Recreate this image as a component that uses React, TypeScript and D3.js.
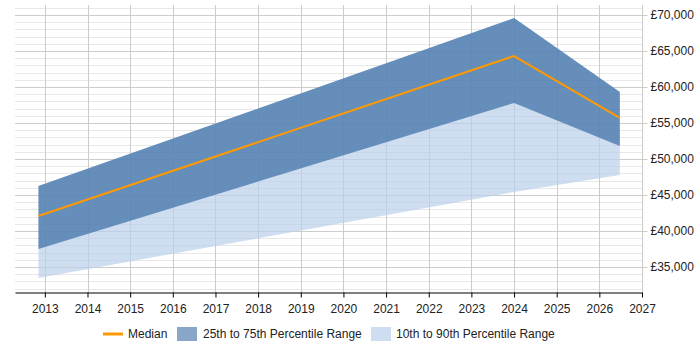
import React, { useRef, useEffect } from 'react';
import * as d3 from 'd3';

// time points (fractional years) and percentile values
const years = [2012.85, 2024.0, 2026.48];
const p10 = [33470, 45420, 47780];
const p25 = [37500, 57780, 51800];
const median = [42080, 64300, 55700];
const p75 = [46250, 69580, 59300];
const p90 = [46250, 69580, 59300];

const xTicks = d3.range(2013, 2028);
const yTicks = d3.range(35000, 70001, 5000);
const legendLabels = ['Median', '25th to 75th Percentile Range', '10th to 90th Percentile Range'];

const App = () => {
  const svgRef = useRef<SVGSVGElement>(null);

  useEffect(() => {
    const svg = d3.select(svgRef.current);
    svg.selectAll('*').remove();

    const left = 15, right = 642, top = 5, bottom = 292;

    const x = d3.scaleLinear().domain([2012.3, 2027]).range([left, right]);
    const y = d3.scaleLinear().domain([31530, 71390]).range([bottom, top]);

    // minor grid
    svg.append('g')
      .selectAll('line')
      .data(d3.range(32000, 71001, 1000).filter(v => v % 5000 !== 0))
      .join('line')
      .attr('x1', left).attr('x2', right)
      .attr('y1', d => Math.round(y(d)) + 0.5).attr('y2', d => Math.round(y(d)) + 0.5)
      .attr('stroke', '#e8e8e8');

    // major grid
    svg.append('g')
      .selectAll('line')
      .data(yTicks)
      .join('line')
      .attr('x1', left).attr('x2', right)
      .attr('y1', d => Math.round(y(d)) + 0.5).attr('y2', d => Math.round(y(d)) + 0.5)
      .attr('stroke', '#cccccc');

    // vertical grid
    svg.append('g')
      .selectAll('line')
      .data(xTicks)
      .join('line')
      .attr('x1', d => Math.round(x(d)) + 0.5).attr('x2', d => Math.round(x(d)) + 0.5)
      .attr('y1', top).attr('y2', bottom)
      .attr('stroke', '#cccccc');

    const idx = d3.range(years.length);

    const area10 = d3.area<number>()
      .x(i => x(years[i]))
      .y0(i => y(p10[i]))
      .y1(i => y(p90[i]));
    svg.append('path').datum(idx).attr('d', area10)
      .attr('fill', '#b9d0ea').attr('fill-opacity', 0.7);

    const area25 = d3.area<number>()
      .x(i => x(years[i]))
      .y0(i => y(p25[i]))
      .y1(i => y(p75[i]));
    svg.append('path').datum(idx).attr('d', area25)
      .attr('fill', '#3f6fa6').attr('fill-opacity', 0.72);

    const line = d3.line<number>()
      .x(i => x(years[i]))
      .y(i => y(median[i]));
    svg.append('path').datum(idx).attr('d', line)
      .attr('fill', 'none').attr('stroke', '#ff9900').attr('stroke-width', 2);

    // bottom axis
    const xAxis = d3.axisBottom(x).tickValues(xTicks).tickFormat(d3.format('d')).tickSize(5).tickSizeOuter(0);
    const gx = svg.append('g')
      .attr('transform', `translate(0, ${bottom + 0.5})`)
      .call(xAxis);
    gx.select('.domain').attr('stroke', '#000');
    gx.selectAll('text').attr('font-size', 12).attr('fill', '#222').attr('dy', '1.0em');

    // right axis
    const yAxis = d3.axisRight(y).tickValues(yTicks)
      .tickFormat(d => '£' + d3.format(',')(d as number)).tickSize(5);
    const gy = svg.append('g')
      .attr('transform', `translate(${right + 0.5}, 0)`)
      .call(yAxis);
    gy.select('.domain').attr('stroke', '#cccccc').attr('d', `M0,${top}V${bottom}`);
    gy.selectAll('line').attr('stroke', '#cccccc');
    gy.selectAll('text').attr('font-size', 12).attr('fill', '#222').attr('x', 8);

    svg.selectAll('text').attr('font-family', 'Liberation Sans, Arial, sans-serif');

    // legend
    const lg = svg.append('g').attr('font-family', 'Liberation Sans, Arial, sans-serif').attr('font-size', 12);
    lg.append('line').attr('x1', 103).attr('x2', 123).attr('y1', 334).attr('y2', 334)
      .attr('stroke', '#ff9900').attr('stroke-width', 3);
    lg.append('text').attr('x', 128).attr('y', 338).text(legendLabels[0]).attr('fill', '#222');
    lg.append('rect').attr('x', 177).attr('y', 327).attr('width', 20).attr('height', 14)
      .attr('fill', '#3f6fa6').attr('fill-opacity', 0.62);
    lg.append('text').attr('x', 203).attr('y', 338).text(legendLabels[1]).attr('fill', '#222');
    lg.append('rect').attr('x', 371).attr('y', 327).attr('width', 20).attr('height', 14)
      .attr('fill', '#b9d0ea').attr('fill-opacity', 0.7);
    lg.append('text').attr('x', 396).attr('y', 338).text(legendLabels[2]).attr('fill', '#222');
  }, []);

  return (
    <svg ref={svgRef} width={700} height={350} style={{ position: 'absolute', left: 0, top: 0 }}></svg>
  );
};

export default App;
